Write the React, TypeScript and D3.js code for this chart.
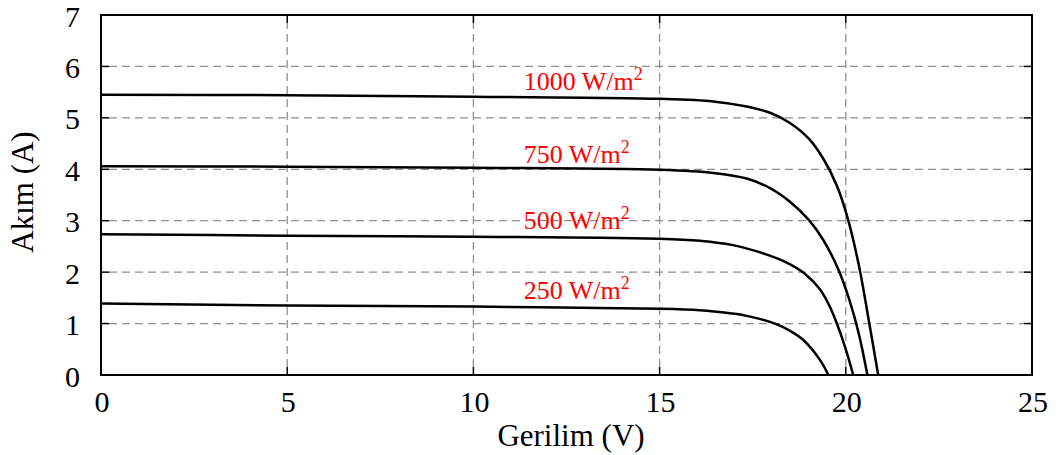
import React from "react";
import * as d3 from "d3";

const irradianceLabels = ["1000 W/m", "750 W/m", "500 W/m", "250 W/m"];

const v1000 = [0, 5, 10, 15, 16.44, 17.34, 18.0, 18.5, 19.0, 19.4, 19.76, 20.05, 20.36, 20.62, 20.87];
const i1000 = [5.45, 5.44, 5.41, 5.37, 5.32, 5.22, 5.09, 4.9, 4.6, 4.2, 3.68, 3.05, 2.1, 1.05, 0];

const v750 = [0, 5, 10, 15, 16.44, 17.34, 18.0, 18.5, 19.0, 19.4, 19.8, 20.1, 20.35, 20.58];
const i750 = [4.06, 4.05, 4.03, 3.99, 3.93, 3.82, 3.62, 3.37, 3.02, 2.62, 2.05, 1.45, 0.8, 0];

const v500 = [0, 5, 10, 15, 16.08, 17.0, 17.8, 18.4, 18.9, 19.3, 19.55, 19.75, 20.0, 20.2];
const i500 = [2.735, 2.71, 2.69, 2.65, 2.61, 2.52, 2.36, 2.19, 1.97, 1.67, 1.36, 1.02, 0.5, 0];

const v250 = [0, 5, 10, 15, 16.08, 16.89, 17.34, 18.1, 18.5, 18.86, 19.31, 19.53];
const i250 = [1.39, 1.35, 1.33, 1.29, 1.26, 1.2, 1.15, 1.0, 0.86, 0.68, 0.29, 0];

const labelV = 11.35;
const labelI = [5.55, 4.12, 2.83, 1.47];

const xTicks = [0, 5, 10, 15, 20, 25];
const yTicks = [0, 1, 2, 3, 4, 5, 6, 7];

const xTitle = "Gerilim (V)";
const yTitle = "Akım (A)";

const W = 1059;
const H = 455;
const L = 101;
const R = 1032;
const T = 15;
const B = 375;

const FONT = "'Liberation Serif', 'Times New Roman', Times, serif";

export default function App() {
  const x = d3.scaleLinear().domain([0, 25]).range([L, R]);
  const y = d3.scaleLinear().domain([0, 7]).range([B, T]);

  const series = [
    { v: v1000, i: i1000 },
    { v: v750, i: i750 },
    { v: v500, i: i500 },
    { v: v250, i: i250 },
  ];

  const line = d3
    .line<[number, number]>()
    .x((d) => x(d[0]))
    .y((d) => y(d[1]))
    .curve(d3.curveCatmullRom.alpha(0.5));

  const tickLen = 8;

  return (
    <div style={{ position: "fixed", left: 0, top: 0 }}>
      <svg width={W} height={H} style={{ display: "block", background: "#fff" }}>
        <defs>
          <clipPath id="plotclip">
            <rect x={L} y={T} width={R - L} height={B - T} />
          </clipPath>
        </defs>
        {/* grid */}
        {xTicks.slice(1, -1).map((t) => (
          <line
            key={"gx" + t}
            x1={x(t)}
            x2={x(t)}
            y1={B - tickLen}
            y2={T + tickLen}
            stroke="#8f8f8f"
            strokeWidth={1.3}
            strokeDasharray="8,5"
          />
        ))}
        {yTicks.slice(1, -1).map((t) => (
          <line
            key={"gy" + t}
            x1={L + tickLen}
            x2={R - tickLen}
            y1={y(t)}
            y2={y(t)}
            stroke="#8f8f8f"
            strokeWidth={1.3}
            strokeDasharray="8,5"
          />
        ))}
        {/* ticks */}
        {xTicks.map((t) => (
          <g key={"tx" + t}>
            <line x1={x(t)} x2={x(t)} y1={B} y2={B - tickLen} stroke="#000" strokeWidth={1.5} />
            <line x1={x(t)} x2={x(t)} y1={T} y2={T + tickLen} stroke="#000" strokeWidth={1.5} />
          </g>
        ))}
        {yTicks.map((t) => (
          <g key={"ty" + t}>
            <line x1={L} x2={L + tickLen} y1={y(t)} y2={y(t)} stroke="#000" strokeWidth={1.5} />
            <line x1={R} x2={R - tickLen} y1={y(t)} y2={y(t)} stroke="#000" strokeWidth={1.5} />
          </g>
        ))}
        {/* curves */}
        <g clipPath="url(#plotclip)">
          {series.map((s, k) => (
            <path
              key={"s" + k}
              d={line(s.v.map((vv, j) => [vv, s.i[j]] as [number, number])) || ""}
              fill="none"
              stroke="#000"
              strokeWidth={2.5}
            />
          ))}
        </g>
        {/* frame */}
        <rect x={L} y={T} width={R - L} height={B - T} fill="none" stroke="#000" strokeWidth={2} />
        {/* series labels */}
        {irradianceLabels.map((lab, k) => (
          <text
            key={"lab" + k}
            x={x(labelV)}
            y={y(labelI[k])}
            fill="#ff0000"
            fontFamily={FONT}
            fontSize={26}
          >
            {lab}
            <tspan dy={-10} fontSize={18}>
              2
            </tspan>
          </text>
        ))}
        {/* tick labels */}
        {xTicks.map((t) => (
          <text
            key={"xl" + t}
            x={x(t) + 1}
            y={B + 36.5}
            textAnchor="middle"
            fontFamily={FONT}
            fontSize={30}
            fill="#000"
          >
            {t}
          </text>
        ))}
        {yTicks.map((t) => (
          <text
            key={"yl" + t}
            x={L - 21}
            y={y(t) + 11.5}
            textAnchor="end"
            fontFamily={FONT}
            fontSize={30}
            fill="#000"
          >
            {t}
          </text>
        ))}
        {/* axis titles */}
        <text
          x={571}
          y={446}
          textAnchor="middle"
          fontFamily={FONT}
          fontSize={31}
          fill="#000"
        >
          {xTitle}
        </text>
        <text
          transform={`translate(33, 192) rotate(-90)`}
          textAnchor="middle"
          fontFamily={FONT}
          fontSize={31}
          fill="#000"
        >
          {yTitle}
        </text>
      </svg>
    </div>
  );
}
